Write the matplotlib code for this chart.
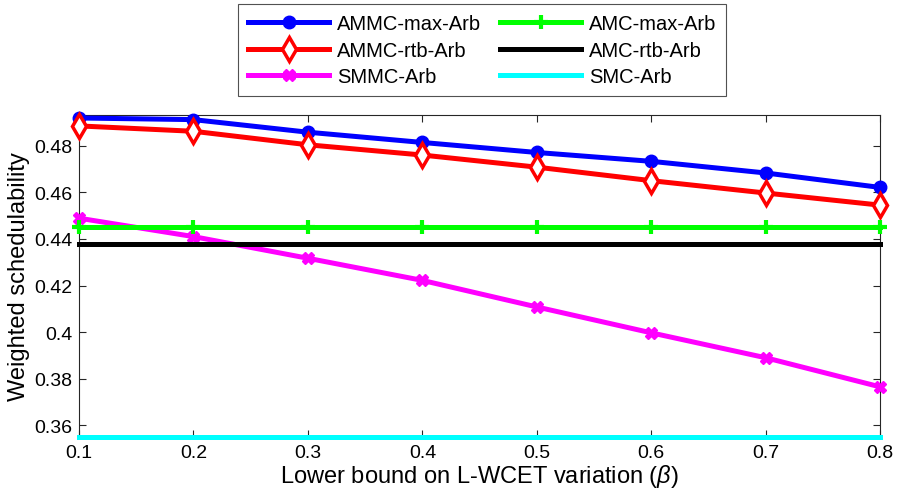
import numpy as np
import matplotlib
matplotlib.use('Agg')
import matplotlib.pyplot as plt
from matplotlib.ticker import FuncFormatter

plt.rcParams['font.family'] = ['Liberation Sans', 'DejaVu Sans']
plt.rcParams['mathtext.fontset'] = 'custom'
plt.rcParams['mathtext.rm'] = 'Liberation Sans'
plt.rcParams['mathtext.it'] = 'Liberation Sans:italic'

# beta values and weighted schedulability per method
beta = [0.1, 0.2, 0.3, 0.4, 0.5, 0.6, 0.7, 0.8]
ammc_max = [0.4919, 0.4912, 0.4858, 0.4814, 0.4771, 0.4733, 0.4683, 0.4621]
ammc_rtb = [0.4885, 0.4862, 0.4804, 0.4760, 0.4708, 0.4650, 0.4597, 0.4545]
smmc = [0.4489, 0.4410, 0.4317, 0.4222, 0.4108, 0.3997, 0.3890, 0.3765]
amc_max = [0.4452] * 8
amc_rtb = [0.4380] * 8
smc = [0.3551] * 8

fig = plt.figure(figsize=(9, 5.02), dpi=100)
ax = fig.add_axes([0.0878, 0.1275, 0.8902, 0.6415])

lw = 3.6
h1, = ax.plot(beta, ammc_max, color='#0000ff', lw=lw, marker='o', ms=9,
              label='AMMC-max-Arb')
h2, = ax.plot(beta, ammc_rtb, color='#ff0000', lw=lw, marker='d', ms=12,
              mfc='white', mew=2.5, label='AMMC-rtb-Arb')
h3, = ax.plot(beta, smmc, color='#ff00ff', lw=lw, marker='X', ms=8,
              label='SMMC-Arb')
h4, = ax.plot(beta, amc_max, color='#00ff00', lw=lw, marker='+', ms=10,
              mew=3, label='AMC-max-Arb')
h5, = ax.plot(beta, amc_rtb, color='black', lw=lw, label='AMC-rtb-Arb')
h6, = ax.plot(beta, smc, color='#00ffff', lw=lw, label='SMC-Arb')

ax.set_xlim(0.1, 0.8)
ax.set_ylim(0.355, 0.4932)
ax.set_xticks(beta)
ax.set_yticks([0.36, 0.38, 0.40, 0.42, 0.44, 0.46, 0.48])
ax.yaxis.set_major_formatter(FuncFormatter(lambda v, p: '%g' % round(v, 4)))
ax.xaxis.set_major_formatter(FuncFormatter(lambda v, p: '%g' % round(v, 4)))
ax.tick_params(direction='in', top=True, right=True, labelsize=14,
               length=5, color='#262626', pad=5)
for s in ax.spines.values():
    s.set_color('#262626')
    s.set_linewidth(0.8)
for p in [h1, h2, h3, h4, h5, h6]:
    p.set_clip_on(False)
    p.set_zorder(3)

ax.set_xlabel(r'Lower bound on L-WCET variation ($\beta$)', fontsize=17, labelpad=1)
ax.set_ylabel('Weighted schedulability', fontsize=17, labelpad=3)

leg = fig.legend(handles=[h1, h2, h3, h4, h5, h6], ncol=2, fontsize=14.5,
                 loc='upper center', bbox_to_anchor=(0.536, 1.0),
                 frameon=True, fancybox=False, edgecolor='#262626',
                 handlelength=4.0, columnspacing=0.95, labelspacing=0.38,
                 borderpad=0.5, handletextpad=0.4, borderaxespad=0.25)
leg.get_frame().set_linewidth(0.8)

fig.savefig('out.png', dpi=100)
